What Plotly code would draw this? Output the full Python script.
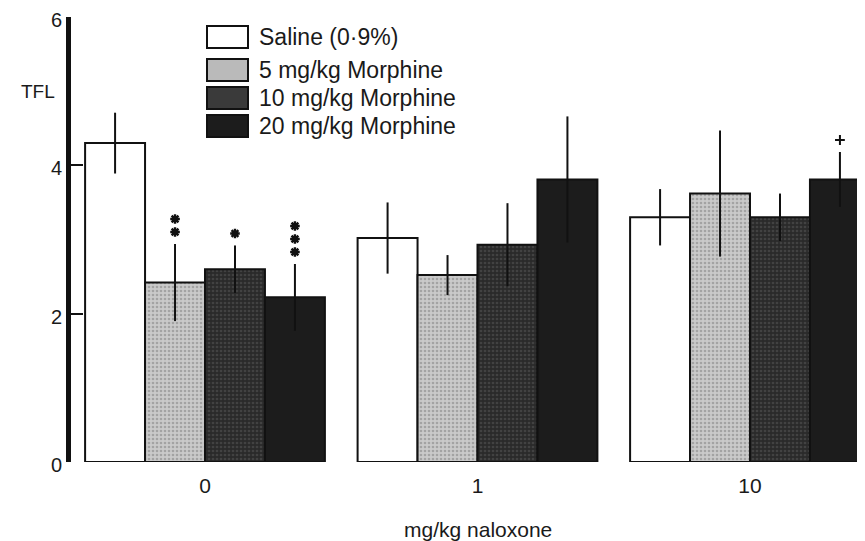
import plotly.graph_objects as go

# ---------------- data ----------------
naloxone_doses = ["0", "1", "10"]
series_names = ["Saline (0·9%)", "5 mg/kg Morphine", "10 mg/kg Morphine", "20 mg/kg Morphine"]
saline = [4.30, 3.02, 3.30]
saline_err = [0.41, 0.48, 0.38]
morphine5 = [2.42, 2.52, 3.62]
morphine5_err = [0.52, 0.27, 0.85]
morphine10 = [2.60, 2.93, 3.30]
morphine10_err = [0.32, 0.56, 0.32]
morphine20 = [2.22, 3.81, 3.81]
morphine20_err = [0.45, 0.85, 0.37]
sig_saline = ["", "", ""]
sig_m5 = ["**", "", ""]
sig_m10 = ["*", "", ""]
sig_m20 = ["***", "", "+"]
y_ticks = [0, 2, 4, 6]

# ---------------- layout geometry ----------------
W, H = 865, 541
OFF = 8                      # page body margin of the html page
ML, MR, MT, MB = 63, 0, 9, 87
PW, PH = W - ML - MR, H - MT - MB
FONT = "Liberation Sans, Arial, sans-serif"
TXT = "#1a1a1a"

def px(xs):   # screenshot x -> paper
    return (xs - OFF - ML) / PW

def py(ys):   # screenshot y -> paper
    return (H - MB - (ys - OFF)) / PH

Y_PER_PX = 6.0 / PH

fills = ["#ffffff", "#bababa", "#3a3a3a", "#1c1c1c"]
patterns = [
    None,
    dict(shape=".", bgcolor="#cacaca", fgcolor="#7c7c7c", size=4, solidity=0.35),
    dict(shape=".", bgcolor="#2a2a2a", fgcolor="#5a5a5a", size=4, solidity=0.35),
    None,
]

values = [saline, morphine5, morphine10, morphine20]
errors = [saline_err, morphine5_err, morphine10_err, morphine20_err]
sigs = [sig_saline, sig_m5, sig_m10, sig_m20]

x_idx = list(range(len(naloxone_doses)))
bargap = 0.12
bar_w = (1 - bargap) / len(values)

fig = go.Figure()
for j, (name, vals, errs) in enumerate(zip(series_names, values, errors)):
    marker = dict(color=fills[j], line=dict(color="#111111", width=2))
    if patterns[j] is not None:
        marker["pattern"] = patterns[j]
    fig.add_trace(go.Bar(
        x=x_idx, y=vals, name=name, marker=marker,
        error_y=dict(type="data", array=errs, visible=True, color="#111111",
                     thickness=2, width=0),
        showlegend=False,
    ))

# significance markers (stacked symbols above the error bars)
for sym_char, sym, size, lw in [("*", "asterisk-open", 8, 2.4), ("+", "cross-thin-open", 7, 2)]:
    xs, ys = [], []
    for j, (vals, errs, sg) in enumerate(zip(values, errors, sigs)):
        for i, s in enumerate(sg):
            top = vals[i] + errs[i]
            for k, ch in enumerate(s):
                if ch != sym_char:
                    continue
                xs.append(x_idx[i] + (j - 1.5) * bar_w)
                ys.append(top + (13 * (k + 1) - 1) * Y_PER_PX)
    if xs:
        fig.add_trace(go.Scatter(
            x=xs, y=ys, mode="markers", showlegend=False, hoverinfo="skip",
            marker=dict(symbol=sym, size=size, color="#111111",
                        line=dict(color="#111111", width=lw)),
        ))

annotations = []
# y-axis label
annotations.append(dict(x=px(38), y=py(91), xref="paper", yref="paper", text="TFL",
                        showarrow=False, xanchor="center", yanchor="middle",
                        font=dict(family=FONT, size=19, color=TXT)))
# x-axis title
annotations.append(dict(x=1, y=py(529), xref="x", yref="paper", text="mg/kg naloxone",
                        showarrow=False, xanchor="center", yanchor="middle",
                        font=dict(family=FONT, size=21, color=TXT)))

# legend (drawn manually)
shapes = []
leg_rows = [37, 70, 98, 126]
for j, name in enumerate(series_names):
    yc = leg_rows[j]
    shapes.append(dict(type="rect", xref="paper", yref="paper",
                       x0=px(207), x1=px(248), y0=py(yc + 11), y1=py(yc - 11),
                       fillcolor=fills[j], line=dict(color="#111111", width=2)))
    annotations.append(dict(x=px(257), y=py(yc), xref="paper", yref="paper", text=name,
                            showarrow=False, xanchor="left", yanchor="middle",
                            font=dict(family=FONT, size=23, color=TXT)))

fig.update_layout(
    width=W, height=H,
    margin=dict(l=ML, r=MR, t=MT, b=MB, pad=0, autoexpand=False),
    paper_bgcolor="white", plot_bgcolor="white",
    barmode="group", bargap=bargap, bargroupgap=0,
    showlegend=False,
    annotations=annotations, shapes=shapes,
    xaxis=dict(
        range=[(ML + OFF - 205) / 272.5, (W + OFF - 205) / 272.5],
        tickvals=x_idx, ticktext=naloxone_doses,
        showline=False, showgrid=False, zeroline=False, ticks="",
        tickfont=dict(family=FONT, size=21, color=TXT),
        ticklabelstandoff=9, automargin=False,
    ),
    yaxis=dict(
        range=[0, 6.0005], tickvals=y_ticks,
        showline=True, linecolor="#111111", linewidth=5,
        ticks="inside", ticklen=12, tickwidth=2, tickcolor="#111111",
        showgrid=False, zeroline=False, automargin=False,
        ticklabeloverflow="allow", ticklabelshift=3,
        tickfont=dict(family=FONT, size=20, color=TXT),
    ),
)

fig.write_html("out.html")
